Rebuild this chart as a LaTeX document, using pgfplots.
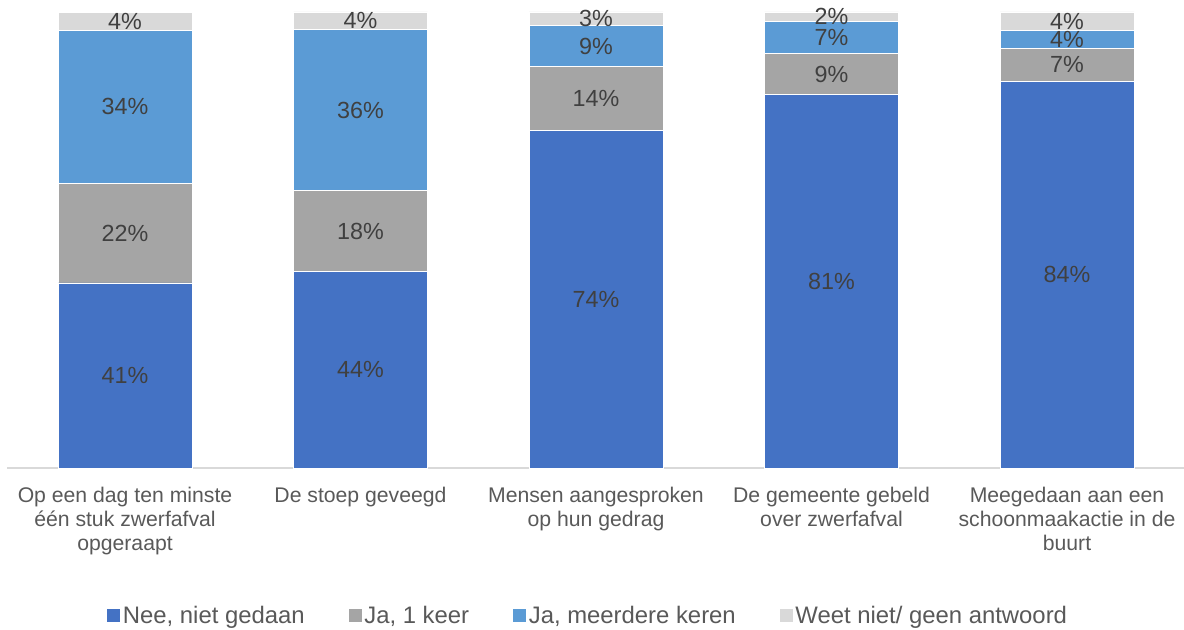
\documentclass[border=0pt]{standalone}
\usepackage{pgfplots}
\pgfplotsset{compat=1.18}
\usepackage{pgfplotstable}
\usepackage{fontspec}
\setmainfont{Liberation Sans}
\definecolor{cNee}{HTML}{4472C4}
\definecolor{cJa1}{HTML}{A5A5A5}
\definecolor{cJam}{HTML}{5B9BD5}
\definecolor{cWeet}{HTML}{D9D9D9}
\definecolor{lbl}{HTML}{404040}
\definecolor{cat}{HTML}{595959}

% normalised shares (100% stacked) and the rounded labels shown
\pgfplotstableread{
x nee ja1 jam weet lnee lja1 ljam lweet
0 40.59 21.78 33.66 3.96 41 22 34 4
1 43.14 17.65 35.29 3.92 44 18 36 4
2 74.00 14.00 9.00 3.00 74 14 9 3
3 81.82 9.09 7.07 2.02 81 9 7 2
4 84.85 7.07 4.04 4.04 84 7 4 4
}\data

\pgfplotsset{common/.style={
  at={(5.4375pt,120.75pt)}, anchor=south west,
  scale only axis, width=883.125pt, height=342pt,
  xmin=-0.5, xmax=4.5, ymin=0, ymax=100}}

\begin{document}
\begin{tikzpicture}
\begin{axis}[common,
  ybar stacked, bar width=0.569,
  axis y line=none, axis x line*=bottom,
  x axis line style={draw=cWeet, line width=1.2pt, -},
  xtick=data, major tick length=0pt,
  xticklabels={{Op een dag ten minste\\één stuk zwerfafval\\opgeraapt},{De stoep geveegd},{Mensen aangesproken\\op hun gedrag},{De gemeente gebeld\\over zwerfafval},{Meegedaan aan een\\schoonmaakactie in de\\buurt}},
  xticklabel style={align=center, font=\fontsize{15.9}{18}\selectfont, text=cat, yshift=-11pt},
  legend style={at={(0.4936,-0.3246)}, anchor=center, draw=none, legend columns=4,
    font=\fontsize{17.9}{20}\selectfont, text=cat,
    /tikz/every even column/.append style={column sep=31pt}},
  legend image code/.code={\fill[#1, draw=none] (0pt,-4.5pt) rectangle (9.75pt,5.25pt);},
]
\addplot[fill=cNee, draw=white, line width=0.6pt] table[x=x, y=nee] {\data};
\addplot[fill=cJa1, draw=white, line width=0.6pt] table[x=x, y=ja1] {\data};
\addplot[fill=cJam, draw=white, line width=0.6pt] table[x=x, y=jam] {\data};
\addplot[fill=cWeet, draw=white, line width=0.6pt] table[x=x, y=weet] {\data};
\legend{{Nee, niet gedaan},{Ja, 1 keer},{Ja, meerdere keren},{Weet niet/ geen antwoord}}
\end{axis}
% value labels, at the middle of each segment
\begin{axis}[common, hide axis,
  /pgf/number format/assume math mode=true,
  point meta=explicit,
  nodes near coords={\pgfmathprintnumber{\pgfplotspointmeta}\%},
  nodes near coords style={font=\fontsize{17.5}{20}\selectfont, text=lbl, anchor=center, inner sep=0pt},
]
\addplot[draw=none, mark=none] table[x=x, y expr=\thisrow{nee}/2, meta=lnee] {\data};
\addplot[draw=none, mark=none] table[x=x, y expr=\thisrow{nee}+\thisrow{ja1}/2, meta=lja1] {\data};
\addplot[draw=none, mark=none] table[x=x, y expr=\thisrow{nee}+\thisrow{ja1}+\thisrow{jam}/2, meta=ljam] {\data};
\addplot[draw=none, mark=none] table[x=x, y expr=\thisrow{nee}+\thisrow{ja1}+\thisrow{jam}+\thisrow{weet}/2, meta=lweet] {\data};
\end{axis}
\pgfresetboundingbox
\path[use as bounding box] (0pt,0pt) rectangle (888pt,471.75pt);
\end{tikzpicture}
\end{document}
